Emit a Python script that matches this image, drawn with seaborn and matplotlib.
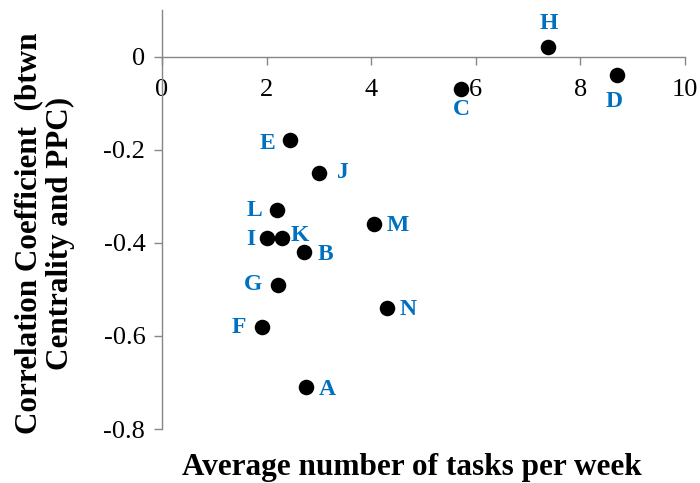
import matplotlib
matplotlib.use("Agg")
import matplotlib.pyplot as plt
from matplotlib.ticker import FuncFormatter
import seaborn as sns
import pandas as pd

# Team labels, average weekly task counts and correlation coefficients
teams = ["A", "B", "C", "D", "E", "F", "G", "H", "I", "J", "K", "L", "M", "N"]
tasks_per_week = [2.76, 2.72, 5.72, 8.70, 2.45, 1.92, 2.22, 7.39, 2.01, 3.00, 2.29, 2.20, 4.06, 4.30]
correlation = [-0.71, -0.42, -0.07, -0.04, -0.18, -0.58, -0.49, 0.02, -0.39, -0.25, -0.39, -0.33, -0.36, -0.54]

# Label offsets (points) relative to each marker
label_dx = {"A": 15, "B": 15, "C": 0, "D": -2, "E": -16, "F": -17, "G": -18,
            "H": 0, "I": -12, "J": 17, "K": 13, "L": -16, "M": 17, "N": 15}
label_dy = {"A": -2, "B": -2, "C": -15, "D": -19, "E": -2, "F": -1, "G": 0,
            "H": 17, "I": -1, "J": 0, "K": 2, "L": 0, "M": -1, "N": -1}

x_ticks = [0, 2, 4, 6, 8, 10]
y_ticks = [-0.8, -0.6, -0.4, -0.2, 0]

df = pd.DataFrame({"team": teams, "tasks": tasks_per_week, "corr": correlation})

sns.set_theme(style="ticks")
plt.rcParams["font.family"] = ["Liberation Serif", "DejaVu Serif"]
plt.rcParams["text.color"] = "black"

axis_grey = "#868686"
label_blue = "#0070C0"

fig = plt.figure(figsize=(7, 4.83), dpi=100)
ax = fig.add_axes([0.2314, 0.1118, 0.7471, 0.8675])

sns.scatterplot(data=df, x="tasks", y="corr", color="black", s=125,
                linewidth=0, ax=ax, legend=False, zorder=3)

for t, xv, yv in zip(teams, tasks_per_week, correlation):
    ax.annotate(t, (xv, yv), xytext=(label_dx[t], label_dy[t]),
                textcoords="offset points", ha="center", va="center",
                fontsize=17, fontweight="bold", color=label_blue,
                annotation_clip=False, zorder=4)

ax.set_xlim(0, 10)
ax.set_ylim(-0.8, 0.1)
ax.set_xticks(x_ticks)
ax.set_yticks(y_ticks)
ax.yaxis.set_major_formatter(FuncFormatter(lambda v, _: f"{v:g}"))
ax.xaxis.set_major_formatter(FuncFormatter(lambda v, _: f"{v:g}"))

for side in ("top", "right"):
    ax.spines[side].set_visible(False)
ax.spines["bottom"].set_position(("data", 0))
for side in ("left", "bottom"):
    ax.spines[side].set_color(axis_grey)
    ax.spines[side].set_linewidth(1.0)

ax.tick_params(axis="both", direction="out", length=6, width=1.0,
               color=axis_grey, labelsize=19, labelcolor="black")
ax.tick_params(axis="x", pad=10)
ax.tick_params(axis="y", pad=6)

ax.set_xlabel("")
ax.set_ylabel("")
fig.text(412 / 700, 1 - 475 / 483, "Average number of tasks per week",
         ha="center", va="baseline", fontsize=22.5, fontweight="bold",
         color="black")
fig.text(45 / 700, 1 - 233.5 / 483,
         "Correlation Coefficient  (btwn\nCentrality and PPC)",
         ha="center", va="center", rotation=90, fontsize=22.4,
         fontweight="bold", multialignment="center", linespacing=1.12,
         color="black")

fig.savefig("out.png", dpi=100, facecolor="white")
